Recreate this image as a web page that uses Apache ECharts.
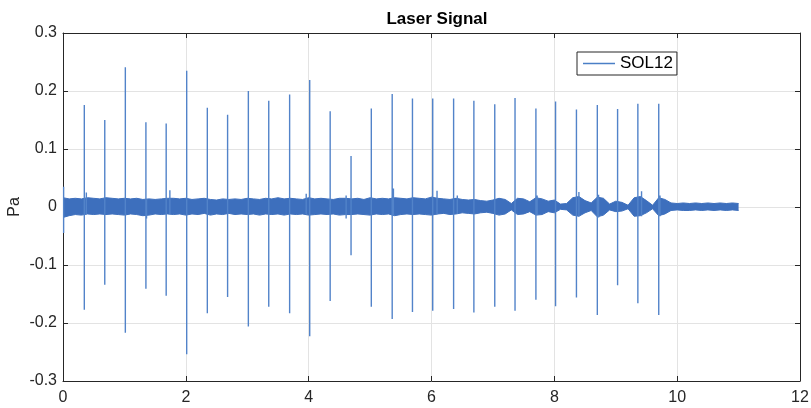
<!DOCTYPE html>
<html>
<head>
<meta charset="utf-8">
<title>Laser Signal</title>
<script src="https://cdn.jsdelivr.net/npm/echarts@6/dist/echarts.min.js"></script>
<style>
  html, body { margin: 0; padding: 0; background: #fff; }
  #chart { width: 811px; height: 408px; }
</style>
</head>
<body>
<div id="chart"></div>
<script>
// laser pulses: time (s), peak and trough (Pa)
var spikeTimes = [0.347, 0.68, 1.015, 1.35, 1.68, 2.014, 2.35, 2.68, 3.018, 3.35, 3.69, 4.017, 4.35, 4.69, 5.02,
  5.36, 5.69, 6.02, 6.36, 6.69, 7.03, 7.36, 7.70, 8.02, 8.36, 8.70, 9.03, 9.36, 9.70];
var spikeTops = [0.176, 0.150, 0.241, 0.146, 0.144, 0.235, 0.171, 0.159, 0.200, 0.183, 0.194, 0.219, 0.165, 0.088, 0.170,
  0.195, 0.187, 0.187, 0.187, 0.183, 0.177, 0.188, 0.170, 0.182, 0.168, 0.176, 0.169, 0.178, 0.178];
var spikeBottoms = [-0.177, -0.134, -0.217, -0.141, -0.153, -0.254, -0.183, -0.155, -0.206, -0.172, -0.183, -0.223, -0.162, -0.083, -0.172,
  -0.193, -0.181, -0.179, -0.176, -0.182, -0.172, -0.179, -0.160, -0.171, -0.156, -0.186, -0.135, -0.166, -0.186];

// small glitches sticking out of the noise
var glitchTimes = [0.01, 0.38, 1.36, 1.74, 3.96, 4.61, 5.38, 6.09, 6.42, 7.72, 8.40, 8.72, 9.42, 9.72];
var glitchTops = [0.035, 0.025, 0.013, 0.029, 0.023, 0.020, 0.032, 0.028, 0.020, 0.020, 0.026, 0.021, 0.027, 0.020];
var glitchBottoms = [-0.045, -0.012, -0.020, -0.012, -0.012, -0.020, -0.015, -0.013, -0.012, -0.014, -0.016, -0.018, -0.016, -0.016];

// noise band envelope, read every 0.1 s from 0 to 11 s
var bandStep = 0.1;
var bandHigh = [
  0.016, 0.014, 0.015, 0.014, 0.016, 0.015, 0.014, 0.016, 0.015, 0.014,
  0.015, 0.014, 0.015, 0.013, 0.014, 0.013, 0.014, 0.015, 0.015, 0.014,
  0.015, 0.013, 0.014, 0.015, 0.013, 0.012, 0.014, 0.013, 0.014, 0.013,
  0.015, 0.014, 0.013, 0.015, 0.014, 0.016, 0.014, 0.015, 0.014, 0.013,
  0.016, 0.014, 0.015, 0.014, 0.013, 0.015, 0.015, 0.014, 0.015, 0.013,
  0.016, 0.014, 0.015, 0.014, 0.016, 0.015, 0.014, 0.016, 0.015, 0.014,
  0.017, 0.015, 0.014, 0.013, 0.015, 0.013, 0.012, 0.013, 0.011, 0.010,
  0.012, 0.015, 0.013, 0.006, 0.015, 0.014, 0.009, 0.016, 0.014, 0.010,
  0.012, 0.005, 0.006, 0.016, 0.018, 0.011, 0.007, 0.017, 0.015, 0.005,
  0.010, 0.008, 0.003, 0.016, 0.018, 0.011, 0.003, 0.016, 0.013, 0.007,
  0.006, 0.007, 0.006, 0.007, 0.006, 0.007, 0.006, 0.007, 0.006, 0.007, 0.006
];
var bandLow = [
  -0.018, -0.015, -0.013, -0.014, -0.012, -0.013, -0.012, -0.013, -0.012, -0.013,
  -0.014, -0.012, -0.013, -0.015, -0.014, -0.012, -0.013, -0.012, -0.013, -0.012,
  -0.014, -0.012, -0.013, -0.011, -0.014, -0.012, -0.013, -0.011, -0.013, -0.012,
  -0.013, -0.012, -0.014, -0.012, -0.013, -0.012, -0.014, -0.012, -0.013, -0.012,
  -0.014, -0.013, -0.012, -0.013, -0.012, -0.014, -0.013, -0.013, -0.012, -0.013,
  -0.014, -0.012, -0.013, -0.012, -0.015, -0.013, -0.012, -0.013, -0.012, -0.013,
  -0.014, -0.012, -0.011, -0.013, -0.012, -0.010, -0.011, -0.012, -0.010, -0.009,
  -0.011, -0.014, -0.012, -0.005, -0.013, -0.012, -0.008, -0.014, -0.013, -0.008,
  -0.010, -0.004, -0.005, -0.014, -0.016, -0.010, -0.006, -0.017, -0.014, -0.005,
  -0.008, -0.007, -0.003, -0.016, -0.015, -0.010, -0.003, -0.015, -0.012, -0.006,
  -0.005, -0.006, -0.006, -0.005, -0.006, -0.005, -0.006, -0.005, -0.006, -0.005, -0.006
];

var xTicks = [0, 2, 4, 6, 8, 10, 12];
var yTicks = [-0.3, -0.2, -0.1, 0, 0.1, 0.2, 0.3];

var lineColor = '#3d6fbd';
var spikeColor = '#5283c9';
var axisColor = '#262626';
var font = 'Liberation Sans, Arial, Helvetica, sans-serif';

// band edges; each one is filled back to zero so together they cover lo..hi
var highData = [], lowData = [];
for (var i = 0; i < bandHigh.length; i++) {
  var t = +(i * bandStep).toFixed(2);
  highData.push([t, bandHigh[i]]);
  lowData.push([t, bandLow[i]]);
}

var pulseData = [];
function addPulses(times, tops, bottoms) {
  for (var i = 0; i < times.length; i++) {
    pulseData.push([times[i], tops[i]]);
    pulseData.push([times[i], bottoms[i]]);
    pulseData.push([times[i], '-']);
  }
}
addPulses(spikeTimes, spikeTops, spikeBottoms);
addPulses(glitchTimes, glitchTops, glitchBottoms);

function yFmt(v) { return String(Math.round(v * 10) / 10); }

var chart = echarts.init(document.getElementById('chart'));

var baseX = {
  type: 'value', min: xTicks[0], max: xTicks[xTicks.length - 1], interval: 2,
  axisLine: { onZero: false, lineStyle: { color: axisColor, width: 1 } },
  axisTick: { inside: true, length: 5, lineStyle: { color: axisColor } }
};
var baseY = {
  type: 'value', min: yTicks[0], max: yTicks[yTicks.length - 1], interval: 0.1,
  axisLine: { onZero: false, lineStyle: { color: axisColor, width: 1 } },
  axisTick: { inside: true, length: 5, lineStyle: { color: axisColor } }
};

function bandSeries(name, data) {
  return {
    name: name, type: 'line', data: data,
    symbol: 'none', silent: true,
    lineStyle: { color: lineColor, width: 1 },
    areaStyle: { color: lineColor, opacity: 1, origin: 0 }
  };
}

chart.setOption({
  animation: false,
  backgroundColor: '#fff',
  title: {
    text: 'Laser Signal',
    left: 432, top: 6, textAlign: 'center',
    textStyle: { fontFamily: font, fontWeight: 'bold', fontSize: 17, color: '#000' }
  },
  legend: {
    data: [{ name: 'SOL12', icon: 'rect' }],
    left: 577, top: 52,
    itemWidth: 32, itemHeight: 1.5, itemGap: 5,
    padding: [3, 4, 3, 6],
    borderColor: axisColor, borderWidth: 1,
    backgroundColor: '#fff',
    itemStyle: { color: '#4a7fc6' },
    textStyle: { fontFamily: font, fontSize: 17, color: '#000' }
  },
  grid: { left: 63, right: 11, top: 33, bottom: 27, containLabel: false, outerBoundsMode: 'none' },
  xAxis: [
    Object.assign({}, baseX, {
      position: 'bottom',
      axisLabel: { fontFamily: font, fontSize: 16, color: axisColor, margin: 9 },
      splitLine: { show: true, lineStyle: { color: '#e3e3e3', width: 1 } }
    }),
    Object.assign({}, baseX, {
      position: 'top',
      axisLabel: { show: false },
      splitLine: { show: false }
    })
  ],
  yAxis: [
    Object.assign({}, baseY, {
      position: 'left',
      name: 'Pa', nameLocation: 'middle', nameGap: 40, nameRotate: 90, nameMoveOverlap: false,
      nameTextStyle: { fontFamily: font, fontSize: 16, color: axisColor },
      axisLabel: { fontFamily: font, fontSize: 16, color: axisColor, margin: 6, formatter: yFmt },
      splitLine: { show: true, lineStyle: { color: '#e3e3e3', width: 1 } }
    }),
    Object.assign({}, baseY, {
      position: 'right',
      axisLabel: { show: false },
      splitLine: { show: false }
    })
  ],
  series: [
    bandSeries('SOL12', highData),
    bandSeries('SOL12', lowData),
    {
      name: 'SOL12', type: 'line', data: pulseData,
      symbol: 'none', silent: true, connectNulls: false,
      lineStyle: { color: spikeColor, width: 1.4 }
    }
  ]
});
</script>
</body>
</html>
